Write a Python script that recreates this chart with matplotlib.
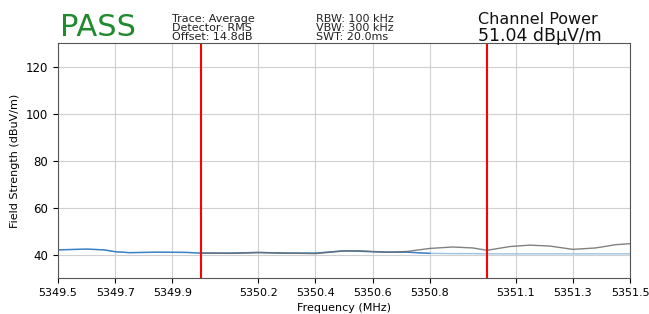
import numpy as np
import matplotlib
matplotlib.use("Agg")
import matplotlib.pyplot as plt

# frequency points (MHz) and levels (dBuV/m)
freq = [5349.50, 5349.60, 5349.66, 5349.70, 5349.75, 5349.85, 5349.95, 5350.00,
        5350.10, 5350.20, 5350.30, 5350.40, 5350.50, 5350.55, 5350.65, 5350.72,
        5350.80, 5350.88, 5350.95, 5351.00, 5351.08, 5351.15, 5351.22, 5351.30,
        5351.38, 5351.45, 5351.50]
trace_gray = [42.0, 42.2, 42.0, 41.2, 40.8, 41.0, 40.8, 40.6,
              40.5, 40.8, 40.6, 40.4, 41.5, 41.6, 41.0, 41.3,
              42.6, 43.2, 42.8, 41.8, 43.4, 44.0, 43.6, 42.2,
              42.8, 44.2, 44.6]
trace_blue = [42.0, 42.3, 42.0, 41.2, 40.8, 41.0, 40.9, 40.6,
              40.6, 40.9, 40.6, 40.6, 41.6, 41.4, 41.0, 41.0,
              40.5, 40.4, 40.4, 40.3, 40.3, 40.3, 40.3, 40.3,
              40.3, 40.3, 40.3]

xticks = [5349.5, 5349.7, 5349.9, 5350.2, 5350.4, 5350.6, 5350.8, 5351.1, 5351.3, 5351.5]
yticks = [40, 60, 80, 100, 120]
markers = [5350.0, 5351.0]

fig = plt.figure(figsize=(6.49, 3.14), dpi=100)
ax = fig.add_axes([0.0894, 0.1146, 0.8814, 0.748])

ax.plot(freq, trace_blue, color="#9cc3e6", lw=1.0)
ax.plot(freq[:17], trace_blue[:17], color="#3b82c4", lw=1.0)
ax.plot(freq[7:], trace_gray[7:], color="#6b6b6b", lw=1.0, alpha=0.85)
for m in markers:
    ax.axvline(m, color="red", lw=1.5)

ax.set_xlim(5349.5, 5351.5)
ax.set_ylim(30, 130)
ax.set_xticks(xticks)
ax.set_xticklabels([f"{t:.1f}" for t in xticks], fontsize=8)
ax.set_yticks(yticks)
ax.tick_params(axis="y", labelsize=8.5)
ax.grid(True, color="#d0d0d0", lw=0.8)
ax.set_xlabel("Frequency (MHz)", fontsize=8)
ax.set_ylabel("Field Strength (dBuV/m)", fontsize=8)
for s in ax.spines.values():
    s.set_color("#555555")

fig.text(0.092, 0.885, "PASS", color="#1f8a2e", fontsize=22)
fig.text(0.265, 0.872, "Trace: Average\nDetector: RMS\nOffset: 14.8dB",
         fontsize=8, linespacing=0.88, color="#222222")
fig.text(0.487, 0.872, "RBW: 100 kHz\nVBW: 300 kHz\nSWT: 20.0ms",
         fontsize=8, linespacing=0.88, color="#222222")
fig.text(0.736, 0.925, "Channel Power", fontsize=11.5, color="#111111")
fig.text(0.736, 0.870, "51.04 dBµV/m", fontsize=12.5, color="#111111")

fig.savefig("out.png", dpi=100)
